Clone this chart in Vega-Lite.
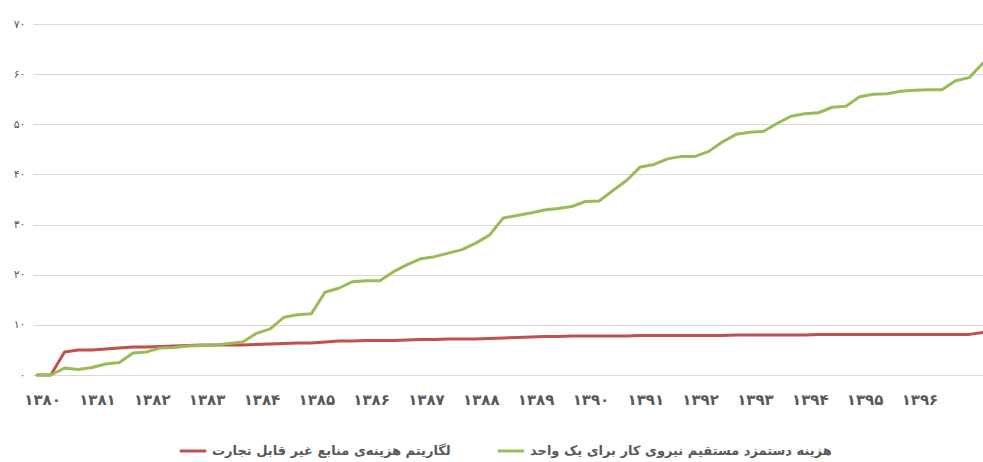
{
"$schema": "https://vega.github.io/schema/vega-lite/v6.json",
"width": 950, "height": 351,
"autosize": {"type": "none"},
"padding": {"left": 33, "top": 24, "right": 0, "bottom": 87},
"background": "white",
"config": {"view": {"stroke": null}, "font": "DejaVu Sans"},
"data": {"values": [
{"t":1380,"g":0,"r":0},{"t":1380.25,"g":0,"r":0},{"t":1380.5,"g":1.4,"r":4.6},{"t":1380.75,"g":1.1,"r":5.0},
{"t":1381,"g":1.5,"r":5.0},{"t":1381.25,"g":2.2,"r":5.2},{"t":1381.5,"g":2.5,"r":5.4},{"t":1381.75,"g":4.4,"r":5.6},
{"t":1382,"g":4.6,"r":5.6},{"t":1382.25,"g":5.4,"r":5.7},{"t":1382.5,"g":5.5,"r":5.8},{"t":1382.75,"g":5.8,"r":5.9},
{"t":1383,"g":5.9,"r":6.0},{"t":1383.25,"g":6.0,"r":6.0},{"t":1383.5,"g":6.3,"r":6.0},{"t":1383.75,"g":6.6,"r":6.0},
{"t":1384,"g":8.3,"r":6.1},{"t":1384.25,"g":9.2,"r":6.2},{"t":1384.5,"g":11.5,"r":6.3},{"t":1384.75,"g":12.0,"r":6.4},
{"t":1385,"g":12.2,"r":6.4},{"t":1385.25,"g":16.5,"r":6.6},{"t":1385.5,"g":17.3,"r":6.8},{"t":1385.75,"g":18.6,"r":6.8},
{"t":1386,"g":18.8,"r":6.9},{"t":1386.25,"g":18.8,"r":6.9},{"t":1386.5,"g":20.6,"r":6.9},{"t":1386.75,"g":22.0,"r":7.0},
{"t":1387,"g":23.2,"r":7.1},{"t":1387.25,"g":23.6,"r":7.1},{"t":1387.5,"g":24.3,"r":7.2},{"t":1387.75,"g":25.0,"r":7.2},
{"t":1388,"g":26.3,"r":7.2},{"t":1388.25,"g":27.9,"r":7.3},{"t":1388.5,"g":31.3,"r":7.4},{"t":1388.75,"g":31.8,"r":7.5},
{"t":1389,"g":32.3,"r":7.6},{"t":1389.25,"g":32.9,"r":7.7},{"t":1389.5,"g":33.2,"r":7.7},{"t":1389.75,"g":33.6,"r":7.8},
{"t":1390,"g":34.6,"r":7.8},{"t":1390.25,"g":34.7,"r":7.8},{"t":1390.5,"g":36.8,"r":7.8},{"t":1390.75,"g":38.8,"r":7.8},
{"t":1391,"g":41.5,"r":7.9},{"t":1391.25,"g":42.0,"r":7.9},{"t":1391.5,"g":43.1,"r":7.9},{"t":1391.75,"g":43.6,"r":7.9},
{"t":1392,"g":43.6,"r":7.9},{"t":1392.25,"g":44.6,"r":7.9},{"t":1392.5,"g":46.5,"r":7.9},{"t":1392.75,"g":48.0,"r":8.0},
{"t":1393,"g":48.4,"r":8.0},{"t":1393.25,"g":48.6,"r":8.0},{"t":1393.5,"g":50.2,"r":8.0},{"t":1393.75,"g":51.6,"r":8.0},
{"t":1394,"g":52.1,"r":8.0},{"t":1394.25,"g":52.3,"r":8.1},{"t":1394.5,"g":53.4,"r":8.1},{"t":1394.75,"g":53.6,"r":8.1},
{"t":1395,"g":55.5,"r":8.1},{"t":1395.25,"g":56.0,"r":8.1},{"t":1395.5,"g":56.1,"r":8.1},{"t":1395.75,"g":56.6,"r":8.1},
{"t":1396,"g":56.8,"r":8.1},{"t":1396.25,"g":56.9,"r":8.1},{"t":1396.5,"g":56.9,"r":8.1},{"t":1396.75,"g":58.7,"r":8.1},
{"t":1397,"g":59.3,"r":8.1},{"t":1397.25,"g":62.2,"r":8.5}
]},
"transform": [{"fold": ["r", "g"], "as": ["s", "v"]}],
"mark": {"type": "line", "strokeWidth": 3, "strokeJoin": "round", "strokeCap": "round"},
"encoding": {
  "x": {"field": "t", "type": "quantitative",
    "scale": {"domain": [1379.925, 1397.25], "nice": false, "zero": false},
    "axis": {"values": [1380,1381,1382,1383,1384,1385,1386,1387,1388,1389,1390,1391,1392,1393,1394,1395,1396],
      "title": null, "domain": false, "ticks": false, "grid": false,
      "labelExpr": "replace(replace(replace(replace(replace(replace(replace(replace(replace(replace(''+datum.value,regexp('0','g'),'۰'),regexp('1','g'),'۱'),regexp('2','g'),'۲'),regexp('3','g'),'۳'),regexp('4','g'),'۴'),regexp('5','g'),'۵'),regexp('6','g'),'۶'),regexp('7','g'),'۷'),regexp('8','g'),'۸'),regexp('9','g'),'۹')",
      "labelFontSize": 15, "labelFontWeight": "bold", "labelColor": "#595959", "labelPadding": 17, "labelOffset": 5}},
  "y": {"field": "v", "type": "quantitative",
    "scale": {"domain": [0, 70], "nice": false},
    "axis": {"values": [0,10,20,30,40,50,60,70], "title": null, "domain": false, "ticks": false,
      "gridColor": "#d9d9d9", "gridWidth": 1,
      "labelExpr": "replace(replace(replace(replace(replace(replace(replace(replace(''+datum.value,regexp('0','g'),'۰'),regexp('1','g'),'۱'),regexp('2','g'),'۲'),regexp('3','g'),'۳'),regexp('4','g'),'۴'),regexp('5','g'),'۵'),regexp('6','g'),'۶'),regexp('7','g'),'۷')",
      "labelFontSize": 11, "labelColor": "#595959", "labelPadding": 8}},
  "color": {"field": "s", "type": "nominal",
    "scale": {"domain": ["r", "g"], "range": ["#c0504d", "#9bbb59"]},
    "legend": {"title": null, "orient": "none", "legendX": 145, "legendY": 412, "direction": "horizontal",
      "symbolType": "stroke", "symbolSize": 700, "symbolStrokeWidth": 3,
      "labelFontSize": 13, "labelFontWeight": "bold", "labelColor": "#595959", "labelLimit": 400, "columnPadding": 40,
      "labelBaseline": "middle",
      "labelExpr": "datum.value == 'r' ? 'لگاریتم هزینه‌ی منابع غیر قابل تجارت' : 'هزینه دستمزد مستقیم نیروی کار برای یک واحد'"}}
}
}
